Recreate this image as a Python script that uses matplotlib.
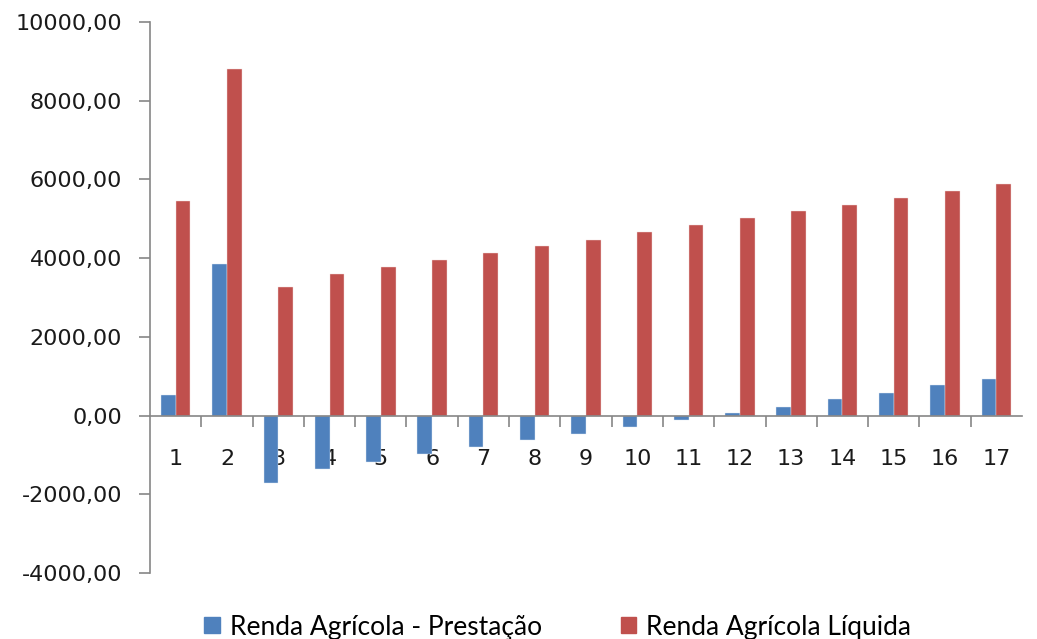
import matplotlib
matplotlib.use("Agg")
import matplotlib.pyplot as plt
import numpy as np
from matplotlib.ticker import FuncFormatter, FixedLocator
from matplotlib.patches import Patch

categories = [str(i) for i in range(1, 18)]
prestacao = [510, 3860, -1710, -1360, -1170, -970, -810, -620, -460,
             -280, -110, 70, 230, 420, 575, 770, 930]
liquida = [5450, 8800, 3260, 3600, 3770, 3960, 4120, 4305, 4470,
           4660, 4850, 5010, 5195, 5355, 5540, 5700, 5890]

BLUE = "#4F81BD"
RED = "#C0504D"
GRAY = "#868686"

plt.rcParams["font.family"] = ["DejaVu Sans"]

fig = plt.figure(figsize=(10.37, 6.39), dpi=100)
ax = fig.add_axes([150 / 1037, 1 - 573 / 639, 872 / 1037, 551 / 639])

x = np.arange(len(categories))
w = 0.287
ax.bar(x - w / 2, prestacao, w, color=BLUE, edgecolor="#dfe8f3", linewidth=0.3, zorder=2)
ax.bar(x + w / 2, liquida, w, color=RED, edgecolor="#f2dcdb", linewidth=0.3, zorder=2)

ax.set_xlim(-0.5, len(categories) - 0.5)
ax.set_ylim(-4000, 10000)
ax.set_yticks(np.arange(-4000, 10001, 2000))
ax.yaxis.set_major_formatter(FuncFormatter(lambda v, p: f"{v:.2f}".replace(".", ",")))

for s in ("top", "right"):
    ax.spines[s].set_visible(False)
ax.spines["left"].set_color(GRAY)
ax.spines["bottom"].set_color(GRAY)
ax.spines["bottom"].set_position(("data", 0))
ax.spines["left"].set_linewidth(1.2)
ax.spines["bottom"].set_linewidth(1.2)

ax.tick_params(axis="y", direction="out", length=8, color=GRAY, width=1.2,
               labelsize=16, labelcolor="#1a1a1a", pad=12)
ax.set_xticks(x)
ax.set_xticklabels(categories)
ax.tick_params(axis="x", which="major", length=0, labelsize=16, labelcolor="#1a1a1a", pad=24)
ax.xaxis.set_minor_locator(FixedLocator(np.arange(0.5, len(categories) - 0.5, 1)))
ax.tick_params(axis="x", which="minor", direction="out", length=8, color=GRAY, width=1.2)
for lbl in ax.get_xticklabels():
    lbl.set_zorder(3)

handles = [Patch(color=BLUE, label="Renda Agrícola - Prestação"),
           Patch(color=RED, label="Renda Agrícola Líquida")]
fig.legend(handles=handles, loc="center", bbox_to_anchor=(0.538, 1 - 627 / 639), ncol=2,
           frameon=False, prop={"family": "Lato", "size": 19}, handlelength=0.58,
           handleheight=0.58, handletextpad=0.38, columnspacing=3.0)

fig.savefig("out.png", dpi=100)
